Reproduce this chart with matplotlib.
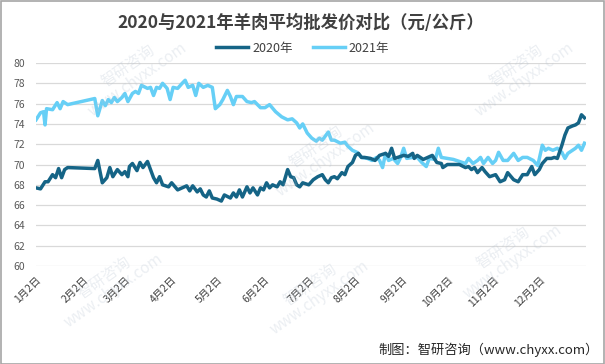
import matplotlib
matplotlib.use("Agg")
import matplotlib.pyplot as plt

plt.rcParams["font.family"] = ["Noto Sans CJK SC", "DejaVu Sans"]

# x = days after Jan 2 (category axis of dates), values in yuan/kg
tick_days = [0, 31, 59, 90, 120, 151, 181, 212, 243, 273, 304, 334]
tick_labels = ["1月2日", "2月2日", "3月2日", "4月2日", "5月2日", "6月2日",
               "7月2日", "8月2日", "9月2日", "10月2日", "11月2日", "12月2日"]

days_2020 = [0, 3, 6, 8, 11, 13, 15, 17, 19, 21, 39, 41, 44, 47, 49, 51, 54, 57,
             59, 61, 62, 64, 67, 69, 71, 74, 76, 78, 80, 82, 84, 88, 90, 94, 97,
             100, 102, 104, 107, 109, 111, 113, 115, 117, 120, 123, 125, 129, 131,
             133, 135, 137, 140, 142, 144, 147, 149, 151, 153, 155, 157, 160, 162,
             164, 167, 169, 171, 173, 175, 177, 181, 184, 187, 190, 192, 194, 196,
             198, 200, 203, 205, 207, 210, 212, 214, 216, 218, 222, 225, 228, 232,
             234, 236, 238, 240, 244, 247, 250, 251, 253, 257, 260, 263, 266, 269,
             270, 273, 277, 281, 285, 287, 289, 291, 293, 296, 298, 301, 305, 308,
             311, 313, 317, 320, 323, 326, 329, 331, 334, 336, 339, 342, 344, 346,
             349, 351, 353, 356, 358, 360, 362, 364]
price_2020 = [67.7, 67.6, 68.3, 68.3, 69.0, 68.7, 69.6, 68.7, 69.5, 69.7, 69.6, 70.4,
              68.2, 68.7, 69.7, 68.8, 69.5, 69.0, 69.3, 68.8, 69.8, 70.1, 69.4, 70.2,
              69.7, 70.3, 69.5, 68.7, 68.2, 68.8, 68.0, 67.8, 68.2, 67.5, 67.7, 67.9,
              67.4, 67.9, 67.3, 67.6, 67.0, 66.8, 67.4, 66.7, 66.6, 66.4, 67.0, 66.7,
              67.2, 66.8, 67.5, 66.8, 67.8, 67.2, 67.7, 67.0, 67.7, 67.5, 68.2, 67.7,
              68.0, 67.8, 68.3, 68.0, 69.5, 68.8, 68.7, 68.0, 67.8, 68.2, 68.0, 68.5,
              68.8, 69.0, 68.5, 68.2, 68.7, 68.8, 68.6, 69.2, 69.0, 69.8, 70.2, 70.9,
              71.1, 70.7, 70.7, 70.6, 70.4, 70.9, 71.1, 70.8, 71.6, 70.6, 70.7, 70.9,
              70.8, 71.1, 70.6, 70.9, 70.5, 70.7, 70.9, 70.2, 70.1, 69.7, 70.0, 70.0,
              70.0, 69.7, 69.8, 69.5, 69.7, 69.2, 69.7, 69.3, 68.8, 69.0, 68.3, 68.5,
              69.2, 68.5, 68.3, 69.0, 69.0, 69.8, 69.0, 69.5, 70.1, 70.6, 70.6, 70.7,
              70.6, 71.9, 72.9, 73.6, 73.8, 73.9, 74.1, 74.9, 74.6]

days_2021 = [0, 3, 5, 6, 7, 11, 14, 16, 18, 21, 39, 41, 44, 46, 48, 50, 52, 54, 57,
             59, 61, 64, 66, 68, 70, 74, 76, 78, 80, 82, 84, 87, 89, 91, 94, 97, 99,
             101, 104, 106, 108, 111, 114, 117, 119, 122, 124, 127, 129, 131, 133,
             137, 140, 143, 145, 149, 152, 155, 159, 163, 167, 170, 173, 175, 177,
             180, 183, 186, 188, 190, 194, 196, 198, 202, 205, 207, 210, 213, 216,
             220, 223, 226, 228, 230, 232, 234, 237, 240, 242, 244, 246, 250, 253,
             256, 259, 261, 265, 267, 269, 273, 277, 281, 285, 287, 290, 293, 295,
             297, 300, 303, 305, 307, 310, 313, 317, 320, 323, 326, 330, 333, 336,
             338, 340, 343, 346, 349, 351, 353, 356, 358, 360, 362, 364]
price_2021 = [74.4, 75.1, 75.2, 73.9, 75.5, 75.4, 76.1, 75.5, 76.2, 75.9, 76.5, 74.8,
              76.3, 75.8, 76.4, 76.1, 76.6, 76.2, 76.6, 77.0, 76.2, 77.0, 77.2, 77.0,
              77.8, 77.5, 77.6, 76.8, 77.6, 77.5, 78.0, 77.5, 76.4, 77.6, 77.5, 78.0,
              78.3, 77.6, 77.8, 76.8, 78.0, 77.6, 77.8, 77.6, 75.5, 75.9, 76.4, 77.3,
              76.7, 75.9, 76.7, 76.7, 76.2, 76.1, 76.2, 75.6, 75.6, 75.9, 75.2, 74.7,
              74.4, 74.5, 74.1, 73.6, 74.0, 73.1, 72.6, 72.3, 72.6, 72.4, 73.2, 72.4,
              72.4, 72.1, 72.2, 71.8, 71.4, 71.2, 70.7, 70.6, 70.4, 70.7, 70.4, 69.7,
              71.1, 70.4, 70.6, 70.1, 70.7, 71.6, 70.6, 70.7, 70.7, 70.2, 69.8, 70.6,
              70.5, 71.6, 70.7, 70.6, 70.5, 70.3, 70.1, 70.6, 70.1, 70.4, 70.7, 70.1,
              70.7, 70.1, 70.4, 71.2, 70.4, 70.4, 71.1, 70.4, 70.7, 70.7, 70.4, 69.9,
              71.9, 71.4, 71.6, 71.4, 71.6, 71.2, 70.6, 71.1, 71.4, 71.6, 71.9, 71.4,
              72.1]

color_2020 = "#156486"
color_2021 = "#66cff6"

fig = plt.figure(figsize=(6.05, 3.64), dpi=100)
ax = fig.add_axes([0.0595, 0.2692, 0.9091, 0.5577])

# faint watermarks, kept fully inside the figure
for wx, wy in [(0.22, 0.80), (0.86, 0.80), (0.53, 0.58),
               (0.18, 0.22), (0.52, 0.20), (0.84, 0.30)]:
    fig.text(wx, wy, "智研咨询\nwww.chyxx.com", rotation=35, ha="center", va="center",
             fontsize=11, color="#b8c4d2", alpha=0.28, linespacing=0.9, zorder=0)

ax.plot(days_2020, price_2020, color=color_2020, lw=2.5, label="2020年",
        solid_joinstyle="round", zorder=3)
ax.plot(days_2021, price_2021, color=color_2021, lw=2.5, label="2021年",
        solid_joinstyle="round", zorder=2)

ax.set_xlim(0, 365)
ax.set_ylim(60, 80)
ax.set_yticks(range(60, 81, 2))
ax.set_xticks(tick_days)
ax.set_xticklabels(tick_labels, rotation=45, ha="right", va="top",
                   rotation_mode="anchor", fontsize=7.5, color="#404040")
ax.tick_params(axis="y", labelsize=7.5, labelcolor="#595959", length=0, pad=8)
ax.tick_params(axis="x", length=0, pad=6)
ax.grid(axis="y", color="#d9d9d9", lw=0.9)
ax.set_axisbelow(True)
for s in ax.spines.values():
    s.set_visible(False)
ax.patch.set_alpha(0)

fig.text(0.497, 0.937, "2020与2021年羊肉平均批发价对比（元/公斤）", ha="center",
         va="center", fontsize=12.5, fontweight="bold", color="#404040")
fig.legend(loc="center", bbox_to_anchor=(0.5, 0.868), ncol=2, frameon=False,
           fontsize=9, handlelength=2.6, columnspacing=1.6, handletextpad=0.3,
           labelcolor="#404040")
fig.text(0.99, 0.038, "制图：智研咨询（www.chyxx.com）", ha="right", va="center",
         fontsize=9.5, color="#262626")

fig.patches.append(plt.Rectangle((0.001, 0.001), 0.998, 0.997, transform=fig.transFigure,
                                 fill=False, edgecolor="#a6a6a6", lw=1.2))

fig.savefig("out.png", dpi=100)
